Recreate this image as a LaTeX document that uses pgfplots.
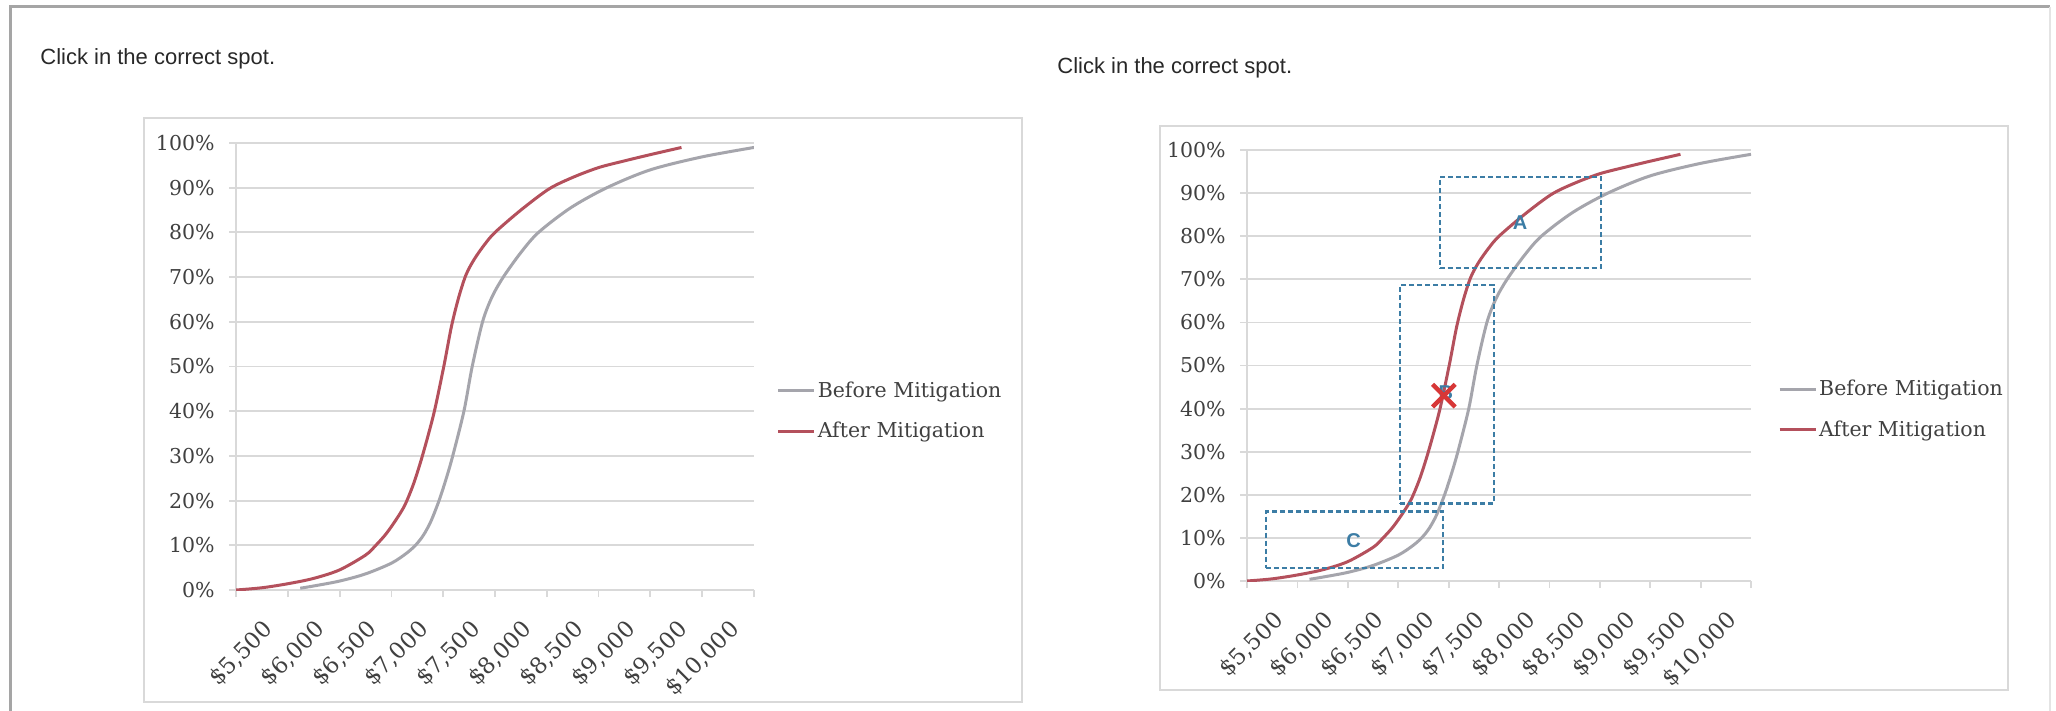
\documentclass[border=0pt]{standalone}
\usepackage{fontspec}
\setmainfont{DejaVu Serif}
\newfontfamily\sansfont{Liberation Sans}
\usepackage{pgfplots}
\usepackage{pgfplotstable}
\pgfplotsset{compat=1.18}
\definecolor{beforec}{RGB}{165,165,172}
\definecolor{afterc}{RGB}{180,80,92}
\definecolor{gridc}{RGB}{217,217,217}
\definecolor{boxc}{RGB}{60,125,165}
\definecolor{labc}{RGB}{64,64,64}
\definecolor{titlec}{RGB}{40,40,40}
\definecolor{framec}{RGB}{165,165,165}
\definecolor{xred}{RGB}{215,55,55}

\pgfplotstableread{
x y
5870 0.4
6000 0.9
6250 2.0
6500 3.6
6750 6.0
6900 8.3
6990 10.2
7060 12.3
7130 15.3
7210 20
7280 25
7342 30
7450 40
7530 50
7630 60
7720 65.5
7830 70
8000 75.5
8170 80
8480 85.5
8830 90
9250 94
9750 96.9
10250 99
}\before

\pgfplotstableread{
x y
5250 0
5500 0.5
5750 1.4
6000 2.6
6250 4.5
6500 7.8
6600 10
6700 12.6
6800 15.9
6880 19
6960 23.5
7030 28.5
7100 34.2
7170 40.5
7260 50.5
7330 59
7400 65.5
7470 70.5
7550 74
7650 77.3
7750 80
8000 85
8270 89.7
8500 92.3
8750 94.5
9000 96
9250 97.4
9550 99
}\after

\pgfplotsset{
  mystyle/.style={
    scale only axis,
    xmin=5250, xmax=10250, ymin=0, ymax=100,
    enlargelimits=false,
    scaled x ticks=false, scaled y ticks=false,
    axis x line*=bottom, axis y line*=left,
    axis line style={gridc, line width=0.9pt},
    ymajorgrids,
    major grid style={gridc, line width=0.9pt},
    ytick={0,10,...,100},
    yticklabels={0\%,10\%,20\%,30\%,40\%,50\%,60\%,70\%,80\%,90\%,100\%},
    xtick={5500,6000,...,10000},
    xticklabels={{\$5,500},{\$6,000},{\$6,500},{\$7,000},{\$7,500},{\$8,000},{\$8,500},{\$9,000},{\$9,500},{\$10,000}},
    minor xtick={5250,5750,...,10250},
    minor ytick={0,10,...,100},
    major tick length=0pt,
    minor tick length=3.5pt,
    tick align=outside,
    tick style={gridc, line width=0.9pt},
    every tick label/.append style={font=\fontsize{10.25}{12}\selectfont, text=labc},
    xticklabel style={rotate=45, anchor=north east, inner sep=0pt, font=\fontsize{11.3}{13}\selectfont},
    xticklabel shift=14pt,
    yticklabel style={inner sep=0pt},
    yticklabel shift=10.5pt,
    legend cell align=left,
    legend image code/.code={\draw[#1, line width=1.5pt] (0pt,0pt) -- (18pt,0pt);},
    legend style={draw=none, fill=none, inner sep=0pt, outer sep=0pt, row sep=9pt,
      anchor=west, font=\fontsize{10.25}{12}\selectfont, text=labc,
      nodes={inner sep=1pt}},
    /tikz/every even column/.append style={column sep=0pt},
  }
}

\begin{document}
\begin{tikzpicture}
\fill[white] (0,0) rectangle (1028pt,-355.5pt);
\path[use as bounding box] (0,0) rectangle (1028pt,-355.5pt);
% screenshot frame
\draw[framec, line width=1.5pt] (5pt,-355.5pt) -- (5pt,-3.5pt) -- (1025pt,-3.5pt);
\draw[gridc!70, line width=1pt] (1025pt,-3.5pt) -- (1025pt,-355.5pt);
% titles
\node[anchor=west, inner sep=0pt, text=titlec, font=\sansfont\fontsize{11}{13}\selectfont] at (20pt,-29.5pt) {Click in the correct spot.};
\node[anchor=west, inner sep=0pt, text=titlec, font=\sansfont\fontsize{11}{13}\selectfont] at (528.5pt,-34pt) {Click in the correct spot.};
% chart area borders
\draw[gridc, line width=0.8pt] (72pt,-59pt) rectangle (511pt,-351pt);
\draw[gridc, line width=0.8pt] (580pt,-63pt) rectangle (1004pt,-345pt);

% left chart
\begin{axis}[mystyle, width=259pt, height=223.5pt, at={(118pt,-295pt)}, anchor=south west,
  legend style={at={(1.044,0.40)}}]
\addplot[beforec, line width=1.5pt, smooth] table[x=x,y=y] {\before};
\addlegendentry{Before Mitigation}
\addplot[afterc, line width=1.5pt, smooth] table[x=x,y=y] {\after};
\addlegendentry{After Mitigation}
\end{axis}

% right chart
\begin{axis}[mystyle, width=252pt, height=215.5pt, at={(623.5pt,-290.5pt)}, anchor=south west,
  legend style={at={(1.054,0.398)}}]
\addplot[beforec, line width=1.5pt, smooth] table[x=x,y=y] {\before};
\addlegendentry{Before Mitigation}
\addplot[afterc, line width=1.5pt, smooth] table[x=x,y=y] {\after};
\addlegendentry{After Mitigation}
\addplot[boxc, line width=1.2pt, dash pattern=on 2.5pt off 1.5pt, line join=miter, forget plot]
  coordinates {(7162,72.6) (8760,72.6) (8760,93.7) (7162,93.7) (7162,72.6)};
\addplot[boxc, line width=1.2pt, dash pattern=on 2.5pt off 1.5pt, line join=miter, forget plot]
  coordinates {(6769,18.0) (7699,18.0) (7699,68.7) (6769,68.7) (6769,18.0)};
\addplot[boxc, line width=1.2pt, dash pattern=on 2.5pt off 1.5pt, line join=miter, forget plot]
  coordinates {(5436,3.0) (7195,3.0) (7195,16.1) (5436,16.1) (5436,3.0)};
\node[text=boxc, font=\sansfont\bfseries\fontsize{10}{12}\selectfont, inner sep=0pt] at (axis cs:7959,83.1) {A};
\node[text=boxc, font=\sansfont\bfseries\fontsize{10}{12}\selectfont, inner sep=0pt] at (axis cs:7223,43.7) {B};
\node[text=boxc, font=\sansfont\bfseries\fontsize{10}{12}\selectfont, inner sep=0pt] at (axis cs:6307,9.4) {C};
\addplot[only marks, mark=x, mark size=8pt, mark options={xred, line width=2.2pt}, forget plot]
  coordinates {(7203,43)};
\end{axis}
\end{tikzpicture}
\end{document}
